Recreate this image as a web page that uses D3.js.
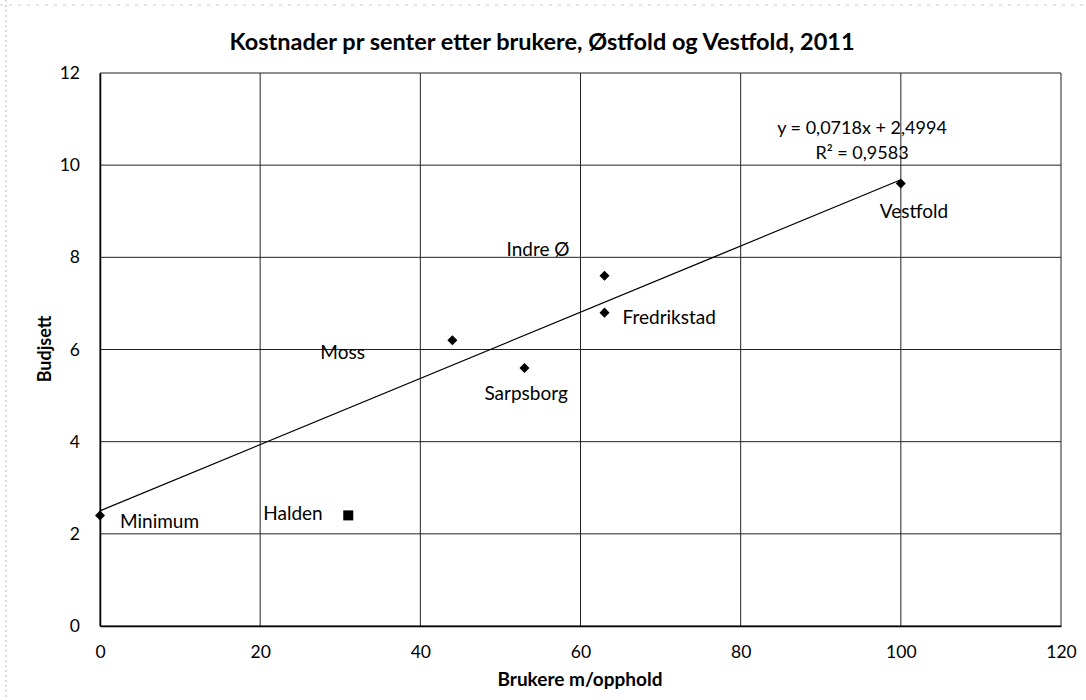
<!DOCTYPE html>
<html>
<head>
<meta charset="utf-8">
<script src="https://cdn.jsdelivr.net/npm/d3@7"></script>
<style>
  body { margin: 0; background: #fff; }
  text { font-family: Lato, "Open Sans", sans-serif; fill: #000; }
</style>
</head>
<body>
<script>
// diamond series (used for the trendline)
const names = ["Minimum", "Moss", "Sarpsborg", "Indre Ø", "Fredrikstad", "Vestfold"];
const users = [0, 44, 53, 63, 63, 100];
const budget = [2.4, 6.2, 5.6, 7.6, 6.8, 9.6];

// square series
const haldenName = ["Halden"];
const haldenUsers = [31];
const haldenBudget = [2.4];

const xTicks = [0, 20, 40, 60, 80, 100, 120];
const yTicks = [0, 2, 4, 6, 8, 10, 12];

const width = 1086;
const height = 700;
const margin = {left: 100, right: 25, top: 73, bottom: 74};

const svg = d3.select("body")
    .append("svg")
    .attr("width", width)
    .attr("height", height);

// faint scan border
svg.append("line")
    .attr("x1", 6).attr("x2", 6).attr("y1", 0).attr("y2", height)
    .attr("stroke", "#bbb").attr("stroke-dasharray", "2,3");
svg.append("line")
    .attr("x1", 0).attr("x2", width).attr("y1", 5).attr("y2", 5)
    .attr("stroke", "#ccc").attr("stroke-dasharray", "3,6");

// X scale
const x = d3.scaleLinear()
    .domain([0, 120])
    .range([margin.left, width - margin.right]);

// Y scale
const y = d3.scaleLinear()
    .domain([0, 12])
    .range([height - margin.bottom, margin.top]);

// horizontal grid
svg.append("g")
    .selectAll("line")
    .data(yTicks)
    .enter()
    .append("line")
    .attr("x1", x(0)).attr("x2", x(120))
    .attr("y1", d => y(d)).attr("y2", d => y(d))
    .attr("stroke", "#222")
    .attr("stroke-width", 1);

// vertical grid
svg.append("g")
    .selectAll("line")
    .data(xTicks)
    .enter()
    .append("line")
    .attr("x1", d => x(d)).attr("x2", d => x(d))
    .attr("y1", y(0)).attr("y2", y(12))
    .attr("stroke", "#222")
    .attr("stroke-width", 1);

// x axis
const xAxis = svg.append("g")
    .attr("transform", `translate(0,${y(0)})`)
    .call(d3.axisBottom(x).tickValues(xTicks).tickSize(0).tickPadding(20));
xAxis.select(".domain").attr("stroke", "#000").attr("stroke-width", 1.5);
xAxis.selectAll("text").style("font-size", "17.5px").style("font-family", "Lato, sans-serif");

// y axis
const yAxis = svg.append("g")
    .attr("transform", `translate(${x(0)},0)`)
    .call(d3.axisLeft(y).tickValues(yTicks).tickSize(0).tickPadding(20));
yAxis.select(".domain").attr("stroke", "#000").attr("stroke-width", 1.5);
yAxis.selectAll("text").style("font-size", "17.5px").style("font-family", "Lato, sans-serif");

// linear trendline
const mx = d3.mean(users), my = d3.mean(budget);
const sxy = d3.sum(users, (u, i) => (u - mx) * (budget[i] - my));
const sxx = d3.sum(users, u => (u - mx) * (u - mx));
const slope = sxy / sxx;
const icpt = my - slope * mx;
const xr = d3.extent(users);

svg.append("line")
    .attr("x1", x(xr[0])).attr("y1", y(icpt + slope * xr[0]))
    .attr("x2", x(xr[1])).attr("y2", y(icpt + slope * xr[1]))
    .attr("stroke", "#000")
    .attr("stroke-width", 1.3);

// diamonds
svg.append("g")
    .selectAll("path")
    .data(users)
    .enter()
    .append("path")
    .attr("transform", (d, i) => `translate(${x(d)},${y(budget[i])})`)
    .attr("d", d3.symbol().type(d3.symbolDiamond2).size(64))
    .attr("fill", "#000");

// square
svg.append("g")
    .selectAll("rect")
    .data(haldenUsers)
    .enter()
    .append("rect")
    .attr("x", d => x(d) - 5)
    .attr("y", (d, i) => y(haldenBudget[i]) - 5)
    .attr("width", 10)
    .attr("height", 10)
    .attr("fill", "#000");

// point labels (offsets in px)
const labelOffset = {
    "Minimum": [20, 6],
    "Moss": [-132, 12],
    "Sarpsborg": [-40, 25],
    "Indre Ø": [-98, -26],
    "Fredrikstad": [18, 5],
    "Vestfold": [-21, 28]
};
svg.append("g")
    .selectAll("text")
    .data(names)
    .enter()
    .append("text")
    .attr("x", (d, i) => x(users[i]) + labelOffset[d][0])
    .attr("y", (d, i) => y(budget[i]) + labelOffset[d][1])
    .attr("dy", "0.35em")
    .style("font-size", "19px")
    .text(d => d);

svg.append("text")
    .attr("x", x(haldenUsers[0]) - 85)
    .attr("y", y(haldenBudget[0]) - 2)
    .attr("dy", "0.35em")
    .style("font-size", "19px")
    .text(haldenName[0]);

// equation
svg.append("text")
    .attr("x", 862).attr("y", 128)
    .attr("dy", "0.35em")
    .attr("text-anchor", "middle")
    .style("font-size", "18px")
    .text("y = " + slope.toFixed(4).replace(".", ",") + "x + " + icpt.toFixed(4).replace(".", ","));
svg.append("text")
    .attr("x", 862).attr("y", 153)
    .attr("dy", "0.35em")
    .attr("text-anchor", "middle")
    .style("font-size", "18px")
    .text("R² = 0,9583");

// title
svg.append("text")
    .attr("x", 542).attr("y", 42)
    .attr("dy", "0.35em")
    .attr("text-anchor", "middle")
    .style("font-size", "23.5px")
    .style("font-weight", "bold")
    .text("Kostnader pr senter etter brukere, Østfold og Vestfold, 2011");

// axis titles
svg.append("text")
    .attr("x", 580).attr("y", 679)
    .attr("dy", "0.35em")
    .attr("text-anchor", "middle")
    .style("font-size", "19px")
    .style("font-weight", "bold")
    .text("Brukere m/opphold");

svg.append("text")
    .attr("transform", "translate(45,349) rotate(-90)")
    .attr("dy", "0.35em")
    .attr("text-anchor", "middle")
    .style("font-size", "18px")
    .style("font-weight", "bold")
    .text("Budjsett");
</script>
</body>
</html>
